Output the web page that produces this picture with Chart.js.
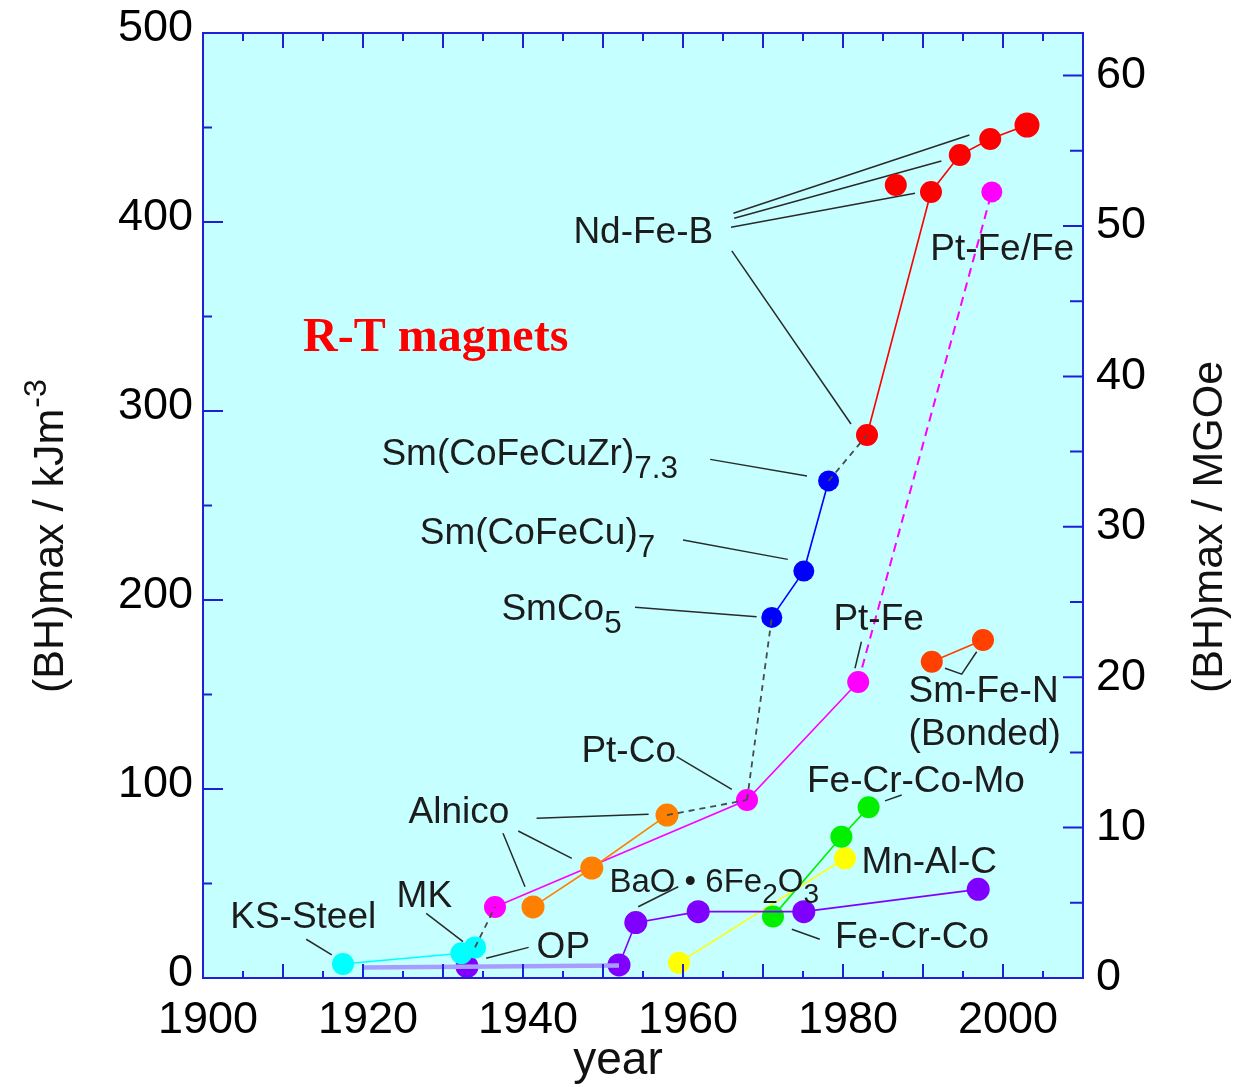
<!DOCTYPE html>
<html>
<head>
<meta charset="utf-8">
<script src="https://cdn.jsdelivr.net/npm/chart.js@4.4.0/dist/chart.umd.min.js"></script>
<style>
  html, body { margin: 0; padding: 0; background: #fff; }
</style>
</head>
<body>
<canvas id="myChart" width="1237" height="1087"></canvas>
<script>
// tick labels
const yearTicks = [1900, 1920, 1940, 1960, 1980, 2000];
const kjTicks = [0, 100, 200, 300, 400, 500];
const mgoeTicks = [0, 10, 20, 30, 40, 50, 60];
const KJ_PER_MGOE = 7.9577;

// (BH)max in kJ/m3 against year
const ksYears = [1917.5, 1932.3, 1934];
const ksValues = [7.4, 13.1, 16.2];
const baseYears = [1920, 1952];
const baseValues = [5.6, 6.6];
const ferriteYears = [1933, 1952, 1954.1, 1961.9, 1975.1, 1996.9];
const ferriteValues = [6.0, 6.9, 29.3, 35.1, 35.1, 46.9];
const ptYears = [1936.5, 1968, 1981.9];
const ptValues = [37.6, 94.2, 156.6];
const ptFeFeYears = [1981.9, 1998.6];
const ptFeFeValues = [156.6, 415.9];
const alnicoYears = [1941.25, 1948.6, 1958];
const alnicoValues = [37.6, 58.2, 86.2];
const smcoYears = [1971.1, 1975.1, 1978.2];
const smcoValues = [190.8, 215.3, 263];
const ndfebYears = [1983, 1991, 1994.6, 1998.4, 2003];
const ndfebValues = [287.3, 415.9, 435.4, 443.9, 451.3];
const ndfebExtraYears = [1986.6];
const ndfebExtraValues = [419.6];
const smfenYears = [1991.1, 1997.5];
const smfenValues = [167.3, 178.8];
const fecrcoYears = [1971.25, 1979.8, 1983.2];
const fecrcoValues = [32.6, 74.7, 90.3];
const mnalcYears = [1959.5, 1980.25];
const mnalcValues = [8.1, 63.3];

const axisBlue = '#1f1fd8';
const textColor = '#1c1c1c';
const sans = "'Liberation Sans', Arial, sans-serif";

// text labels, placed in data units (year, kJ/m3)
const notes = [
  { at: [1946.3, 388.7], parts: [['Nd-Fe-B']] },
  { at: [1990.9, 379.9], parts: [['Pt-Fe/Fe']] },
  { at: [1922.3, 271.4], parts: [['Sm(CoFeCuZr)'], ['7.3', 1]] },
  { at: [1927.1, 229.6], parts: [['Sm(CoFeCu)'], ['7', 1]] },
  { at: [1937.3, 189.4], parts: [['SmCo'], ['5', 1]] },
  { at: [1978.8, 184.1], parts: [['Pt-Fe']] },
  { at: [1988.2, 146.2], parts: [['Sm-Fe-N']] },
  { at: [1988.2, 123.3], parts: [['(Bonded)']] },
  { at: [1947.3, 114.4], parts: [['Pt-Co']] },
  { at: [1975.5, 98.6], parts: [['Fe-Cr-Co-Mo']] },
  { at: [1925.7, 81.9], parts: [['Alnico']] },
  { at: [1982.3, 55.4], parts: [['Mn-Al-C']] },
  { at: [1950.8, 45.7], parts: [['BaO \u2022 6Fe'], ['2', 1], ['O'], ['3', 1]], size: 33 },
  { at: [1924.2, 37.7], parts: [['MK']] },
  { at: [1903.4, 26.3], parts: [['KS-Steel']] },
  { at: [1941.7, 10.4], parts: [['OP']] },
  { at: [1979.0, 15.7], parts: [['Fe-Cr-Co']] }
];

// leader lines from labels to points
const leaders = [
  [[1966.3, 404.6], [1995.8, 446.0]],
  [[1966.4, 402.0], [1992.3, 432.3]],
  [[1966.0, 397.2], [1989.0, 415.2]],
  [[1966.1, 384.7], [1981.0, 293.1]],
  [[1963.4, 274.4], [1975.5, 265.6]],
  [[1960.0, 231.7], [1973.1, 221.5]],
  [[1954.0, 196.1], [1969.2, 191.2]],
  [[1982.3, 177.9], [1981.5, 163.9]],
  [[1992.75, 163.9], [1994.84, 160.8], [1996.71, 172.6]],
  [[1959.2, 117.1], [1966.1, 99.8]],
  [[1985.25, 93.7], [1987.34, 96.8]],
  [[1941.7, 84.5], [1955.7, 86.6]],
  [[1939.4, 77.8], [1946.1, 63.3]],
  [[1937.5, 76.6], [1940.25, 48.3]],
  [[1954.4, 37.7], [1959.4, 48.3]],
  [[1927.9, 34.2], [1932.5, 19.2]],
  [[1912.9, 20.5], [1916.1, 12.2]],
  [[1935.4, 10.4], [1940.7, 16.2]],
  [[1973.6, 25.8], [1977.1, 20.5]]
];

function pts(xs, ys) {
  return xs.map((x, i) => ({ x: x, y: ys[i] }));
}

function series(xs, ys, color, extra) {
  return Object.assign({
    data: pts(xs, ys),
    borderColor: color,
    backgroundColor: color,
    pointBackgroundColor: color,
    pointBorderWidth: 0,
    pointRadius: 10.5,
    borderWidth: 1.6,
    tension: 0,
    yAxisID: 'y'
  }, extra || {});
}

function last(arr) { return arr[arr.length - 1]; }

// dashed black line through the record holders
const recordPairs = [
  [[last(ksYears), last(ksValues)], [ptYears[0], ptValues[0]]],
  [[last(alnicoYears), last(alnicoValues)], [ptYears[1], ptValues[1]]],
  [[ptYears[1], ptValues[1]], [smcoYears[0], smcoValues[0]]],
  [[last(smcoYears), last(smcoValues)], [ndfebYears[0], ndfebValues[0]]]
];

const datasets = [
  series(baseYears, baseValues, '#a79dff', { pointRadius: 0, borderWidth: 4.5 })
];
recordPairs.forEach(p => {
  datasets.push(series([p[0][0], p[1][0]], [p[0][1], p[1][1]], '#4a4a4a',
    { pointRadius: 0, borderWidth: 1.8, borderDash: [6, 5] }));
});
datasets.push(
  series(ptFeFeYears, ptFeFeValues, '#ff00ff', { pointRadius: [0, 10.5], borderWidth: 2, borderDash: [9, 6] }),
  series(ksYears, ksValues, '#00ffff', { pointRadius: 11 }),
  series(ferriteYears, ferriteValues, '#8000ff', { pointRadius: 11.5 }),
  series(alnicoYears, alnicoValues, '#ff8000', { pointRadius: 11.5 }),
  series(ptYears, ptValues, '#ff00ff', { pointRadius: 11 }),
  series(smcoYears, smcoValues, '#0000ff', { pointRadius: 10.5 }),
  series(fecrcoYears, fecrcoValues, '#00f000', { pointRadius: 11 }),
  series(mnalcYears, mnalcValues, '#ffff00', { pointRadius: 11 }),
  series(smfenYears, smfenValues, '#ff4000', { pointRadius: 11 }),
  series(ndfebYears, ndfebValues, '#ff0000', { pointRadius: [11, 11, 11, 11, 12.5] }),
  series(ndfebExtraYears, ndfebExtraValues, '#ff0000', { pointRadius: 11, showLine: false })
);

function drawParts(ctx, x, y, parts, size) {
  let cx = x;
  parts.forEach(p => {
    const sub = p[1] === 1;
    const s = sub ? size * 0.85 : size;
    ctx.font = s + 'px ' + sans;
    ctx.fillText(p[0], cx, y + (sub ? size * 0.35 : 0));
    cx += ctx.measureText(p[0]).width;
  });
}

const overlay = {
  id: 'overlay',
  beforeDatasetsDraw(chart) {
    const { ctx, chartArea: a, scales } = chart;
    ctx.save();
    ctx.fillStyle = '#c6ffff';
    ctx.fillRect(a.left, a.top, a.right - a.left, a.bottom - a.top);
    ctx.strokeStyle = '#2a2a2a';
    ctx.lineWidth = 1.5;
    leaders.forEach(line => {
      ctx.beginPath();
      line.forEach((p, i) => {
        const px = scales.x.getPixelForValue(p[0]);
        const py = scales.y.getPixelForValue(p[1]);
        if (i === 0) ctx.moveTo(px, py); else ctx.lineTo(px, py);
      });
      ctx.stroke();
    });
    ctx.restore();
  },
  afterDatasetsDraw(chart) {
    const { ctx, chartArea: a, scales } = chart;
    ctx.save();
    // frame and inward ticks
    ctx.strokeStyle = axisBlue;
    ctx.lineWidth = 2;
    ctx.beginPath();
    for (let yr = 1905; yr < 2010; yr += 5) {
      const px = scales.x.getPixelForValue(yr);
      const major = yr % 10 === 0;
      ctx.moveTo(px, a.bottom); ctx.lineTo(px, a.bottom - (major ? 14 : 7));
      ctx.moveTo(px, a.top); ctx.lineTo(px, a.top + (major ? 15 : 8));
    }
    for (let v = 50; v < 500; v += 50) {
      const py = scales.y.getPixelForValue(v);
      ctx.moveTo(a.left, py); ctx.lineTo(a.left + (v % 100 === 0 ? 20 : 9), py);
    }
    for (let m = 5; m <= 60; m += 5) {
      const py = scales.y2.getPixelForValue(m);
      ctx.moveTo(a.right, py); ctx.lineTo(a.right - (m % 10 === 0 ? 20 : 13), py);
    }
    ctx.stroke();
    ctx.strokeRect(a.left, a.top, a.right - a.left, a.bottom - a.top);

    // labels
    ctx.fillStyle = textColor;
    ctx.textAlign = 'left';
    ctx.textBaseline = 'alphabetic';
    notes.forEach(n => {
      const px = scales.x.getPixelForValue(n.at[0]);
      const py = scales.y.getPixelForValue(n.at[1]);
      drawParts(ctx, px, py, n.parts, n.size || 37);
    });
    ctx.fillStyle = '#ff0000';
    ctx.font = "bold 48px 'Liberation Serif', 'Times New Roman', serif";
    ctx.fillText('R-T magnets', scales.x.getPixelForValue(1912.5), scales.y.getPixelForValue(331.7));
    ctx.restore();
  },
  afterDraw(chart) {
    const { ctx } = chart;
    ctx.save();
    ctx.fillStyle = '#111';
    ctx.textAlign = 'left';
    ctx.textBaseline = 'alphabetic';
    // left title
    ctx.save();
    ctx.translate(63, 693);
    ctx.rotate(-Math.PI / 2);
    ctx.font = '43px ' + sans;
    ctx.fillText('(BH)max / kJm', 0, 0);
    const w = ctx.measureText('(BH)max / kJm').width;
    ctx.font = '32px ' + sans;
    ctx.fillText('-3', w + 1, -17);
    ctx.restore();
    // right title
    ctx.save();
    ctx.translate(1222, 693);
    ctx.rotate(-Math.PI / 2);
    ctx.font = '43px ' + sans;
    ctx.fillText('(BH)max / MGOe', 0, 0);
    ctx.restore();
    // bottom title
    ctx.textAlign = 'center';
    ctx.font = '46px ' + sans;
    ctx.fillText('year', 618, 1074);
    ctx.restore();
  }
};

const tickFont = { family: sans, size: 45 };
const plain = v => String(v);
// keep the outer label overhang from pushing the plot area inwards
const noPad = s => { s.paddingTop = 0; s.paddingBottom = 0; s.paddingLeft = 0; s.paddingRight = 0; };

const ctx = document.getElementById('myChart').getContext('2d');
const myChart = new Chart(ctx, {
  type: 'line',
  data: { datasets: datasets },
  options: {
    responsive: false,
    devicePixelRatio: 1,
    animation: false,
    events: [],
    layout: { padding: { top: 33, left: 0, right: 0, bottom: 0 } },
    plugins: { legend: { display: false }, tooltip: { enabled: false } },
    scales: {
      x: {
        type: 'linear',
        position: 'bottom',
        min: 1900,
        max: 2010,
        grid: { display: false, drawTicks: false },
        border: { display: false },
        ticks: { font: tickFont, color: '#000', padding: 16, labelOffset: 5, maxRotation: 0, autoSkip: false, callback: plain },
        afterBuildTicks: s => { s.ticks = yearTicks.map(v => ({ value: v })); },
        afterFit: s => { s.height = 109; noPad(s); }
      },
      y: {
        type: 'linear',
        position: 'left',
        min: 0,
        max: 500,
        grid: { display: false, drawTicks: false },
        border: { display: false },
        ticks: { font: tickFont, color: '#000', padding: 10, labelOffset: -4, callback: plain },
        afterBuildTicks: s => { s.ticks = kjTicks.map(v => ({ value: v })); },
        afterFit: s => { s.width = 203; noPad(s); }
      },
      y2: {
        type: 'linear',
        position: 'right',
        min: 0,
        max: 500 / KJ_PER_MGOE,
        grid: { display: false, drawTicks: false },
        border: { display: false },
        ticks: { font: tickFont, color: '#000', padding: 13, callback: plain },
        afterBuildTicks: s => { s.ticks = mgoeTicks.map(v => ({ value: v })); },
        afterFit: s => { s.width = 154; noPad(s); }
      }
    }
  },
  plugins: [overlay]
});
</script>
</body>
</html>
